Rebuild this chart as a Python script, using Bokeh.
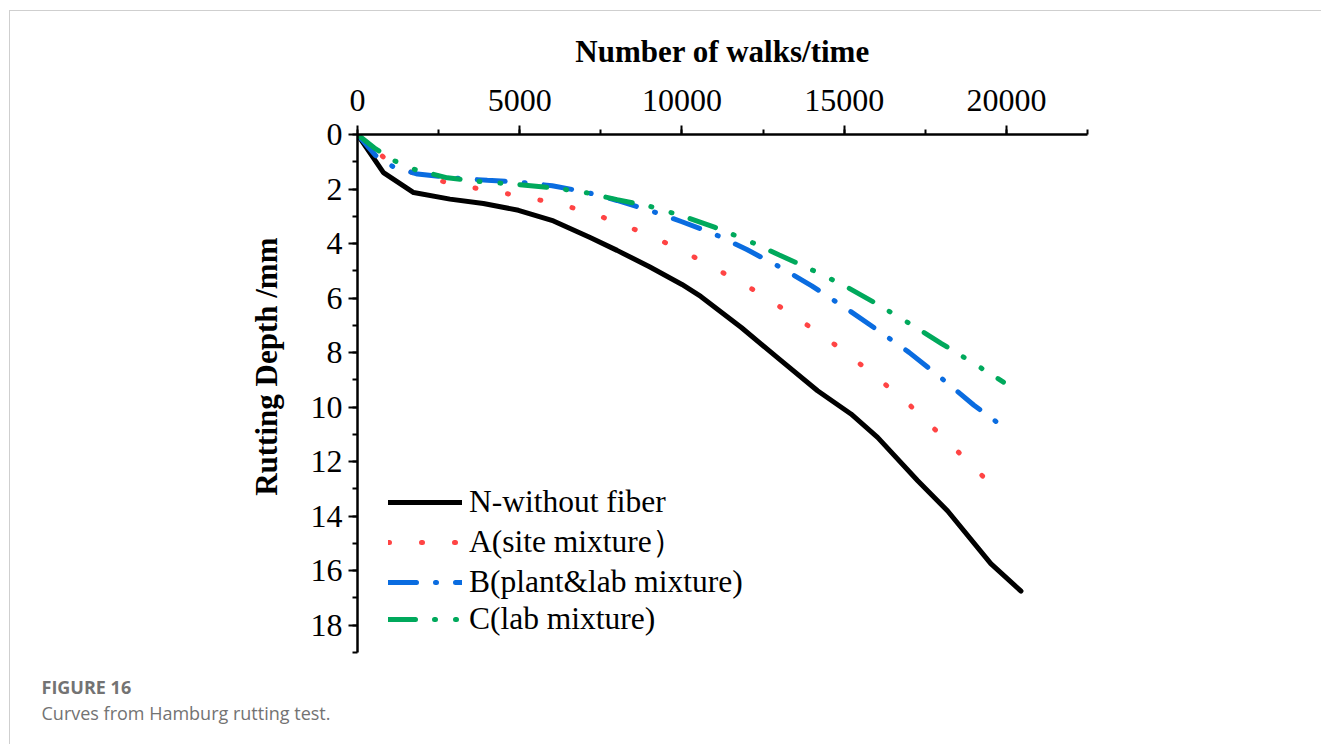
from bokeh.plotting import figure
from bokeh.models import Range1d, SingleIntervalTicker, Legend, LegendItem, Title
from bokeh.embed import file_html
from bokeh.resources import INLINE

# ---- data ----
n_x = [0, 800, 1730, 2850, 3880, 4960, 6040, 7170, 8000, 9000, 10000, 10580, 11830,
       13000, 14180, 15210, 16030, 17260, 18190, 19520, 20450]
n_y = [0, 1.40, 2.13, 2.37, 2.53, 2.78, 3.17, 3.78, 4.25, 4.85, 5.50, 5.94, 7.08,
       8.24, 9.40, 10.25, 11.11, 12.69, 13.81, 15.74, 16.75]

a_x = [0, 870, 1850, 2900, 4000, 5000, 6000, 7000, 8000, 9000, 10000, 11000, 12000,
       13000, 14000, 15000, 16000, 17000, 18000, 19000, 19930]
a_y = [0, 0.9, 1.5, 1.8, 2.05, 2.25, 2.5, 2.8, 3.22, 3.7, 4.25, 4.9, 5.55,
       6.3, 7.1, 7.95, 8.9, 9.9, 11.05, 12.2, 13.35]

b_x = [0, 560, 1120, 1850, 3000, 4000, 5000, 6000, 7000, 8000, 9000, 10000, 11000,
       12000, 13000, 14000, 15000, 16000, 17000, 18000, 19000, 19900]
b_y = [0, 0.77, 1.2, 1.45, 1.6, 1.68, 1.75, 1.88, 2.1, 2.42, 2.78, 3.2, 3.65,
       4.22, 4.85, 5.55, 6.33, 7.15, 7.99, 8.94, 9.93, 10.72]

c_x = [0, 560, 1130, 1800, 2770, 3740, 5000, 6000, 7000, 8000, 9000, 10000, 11000,
       12000, 13000, 14000, 15000, 16000, 17000, 18000, 19000, 19910]
c_y = [0, 0.53, 0.96, 1.3, 1.59, 1.72, 1.84, 1.95, 2.12, 2.39, 2.63, 2.98, 3.4,
       3.87, 4.42, 4.96, 5.54, 6.21, 6.92, 7.67, 8.4, 9.08]

series_names = ["N-without fiber", "A(site mixture\uff09", "B(plant&lab mixture)", "C(lab mixture)"]

x_title = "Number of walks/time"
y_title = "Rutting Depth /mm"
caption_head = "FIGURE 16"
caption_text = "Curves from Hamburg rutting test."

SERIF = "Liberation Serif"

p = figure(width=1312, height=734, output_backend="svg", toolbar_location=None,
           x_range=Range1d(0, 22500), y_range=Range1d(19, 0),
           x_axis_location="above", y_axis_location="left",
           min_border_left=347, min_border_right=235, min_border_top=123, min_border_bottom=93,
           background_fill_color="white", border_fill_color="white")
p.styles = {"margin-left": "9px", "margin-top": "10px",
            "border-left": "1px solid #cfcfcf", "border-top": "1px solid #cfcfcf"}
p.outline_line_color = None
p.xgrid.visible = False
p.ygrid.visible = False

xa = p.xaxis[0]
xa.ticker = SingleIntervalTicker(interval=5000, num_minor_ticks=2)
ya = p.yaxis[0]
ya.ticker = SingleIntervalTicker(interval=2, num_minor_ticks=2)
for ax, std in ((xa, 15), (ya, 6)):
    ax.axis_line_width = 2.5
    ax.axis_line_color = "black"
    ax.major_tick_line_width = 2
    ax.minor_tick_line_width = 2
    ax.major_tick_line_color = "black"
    ax.minor_tick_line_color = "black"
    ax.major_tick_in = 0
    ax.minor_tick_in = 0
    ax.major_tick_out = 9
    ax.minor_tick_out = 5
    ax.major_label_text_font = SERIF
    ax.major_label_text_font_size = "32px"
    ax.major_label_text_color = "black"
    ax.major_label_standoff = std

xa.axis_label = x_title
xa.axis_label_text_font = SERIF
xa.axis_label_text_font_style = "bold"
xa.axis_label_text_font_size = "31px"
xa.axis_label_text_color = "black"
xa.axis_label_standoff = 18

r_n = p.line(n_x, n_y, line_color="black", line_width=5, line_join="round", line_cap="round")
r_a = p.line(a_x, a_y, line_color="#FF4444", line_width=5, line_cap="round", line_dash="1 32")
r_b = p.line(b_x, b_y, line_color="#0A6CE0", line_width=5, line_cap="round", line_dash="28 19 1 19")
r_c = p.line(c_x, c_y, line_color="#00A95C", line_width=5, line_cap="round",
             line_dash="27 19 1 20 1 19")

legend = Legend(items=[LegendItem(label=series_names[0], renderers=[r_n]),
                       LegendItem(label=series_names[1], renderers=[r_a]),
                       LegendItem(label=series_names[2], renderers=[r_b]),
                       LegendItem(label=series_names[3], renderers=[r_c])],
                location=(31, 15), orientation="vertical",
                glyph_width=74, glyph_height=20, label_standoff=7, spacing=1,
                padding=0, margin=0, border_line_color=None, background_fill_alpha=0,
                label_text_font=SERIF, label_text_font_size="31.5px", label_text_color="black")
p.add_layout(legend)

# y-axis title, placed on the left with its top end near the frame top
p.add_layout(Title(text=y_title, align="right", offset=103, vertical_align="middle",
                   standoff=46, text_font=SERIF, text_font_style="bold",
                   text_font_size="31px", text_color="black"), "left")

# caption below the chart
p.add_layout(Title(text="\u00a0", text_font_size="12px", standoff=4), "below")
p.add_layout(Title(text=caption_head, align="left", offset=-316, standoff=0,
                   text_font="Open Sans", text_font_style="bold", text_font_size="18px",
                   text_color="#737373"), "below")
p.add_layout(Title(text=caption_text, align="left", offset=-316, standoff=0,
                   text_font="Open Sans", text_font_style="normal", text_font_size="18px",
                   text_color="#737373"), "below")

open("out.html", "w").write(file_html(p, INLINE))
